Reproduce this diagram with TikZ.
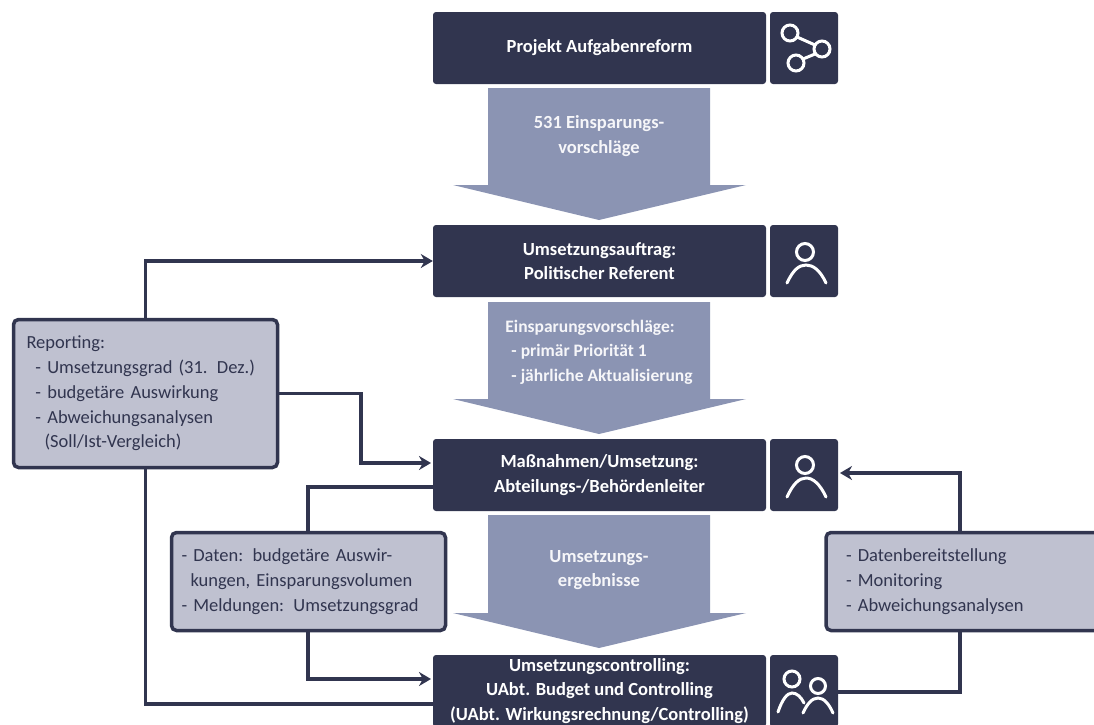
\documentclass[tikz,border=0pt]{standalone}
\usepackage{fontspec}
\setmainfont{Carlito}
\usetikzlibrary{arrows.meta}
\definecolor{dark}{HTML}{31354F}
\definecolor{flow}{HTML}{8B94B3}
\definecolor{pale}{HTML}{BFC1D0}
\tikzset{
  x=1pt,y=-1pt,
  mainbox/.style={fill=dark,rounded corners=3pt,minimum width=333pt,minimum height=72pt,inner sep=0pt,text=white,align=center,font=\fontsize{18.5}{24.5}\selectfont\bfseries},
  iconbox/.style={fill=dark,rounded corners=3pt,minimum width=68pt,minimum height=72pt,inner sep=0pt},
  notebox/.style={draw=dark,line width=3.5pt,fill=pale,rounded corners=5pt,inner sep=0pt,text=dark,align=left,font=\fontsize{18.5}{24.7}\selectfont},
  flowarrow/.style={fill=flow},
  flowtext/.style={text=white!92!flow,align=center,inner sep=0pt,font=\fontsize{18.5}{24.5}\selectfont\bfseries},
  link/.style={draw=dark,line width=3.5pt},
  linkarrow/.style={link,-{Stealth[length=12pt,width=14pt]}},
  icon/.style={draw=white,line width=3pt,line cap=round},
}
\begin{document}
\begin{tikzpicture}
\useasboundingbox (0,0) rectangle (1094,724);
\clip (0,0) rectangle (1094,724);
% main boxes
\node[mainbox] (b1) at (599.5,48) {Projekt Aufgabenreform};
\node[iconbox] (i1) at (804,48) {};
\node[mainbox] (b2) at (599.5,261) {Umsetzungsauftrag:\\Politischer Referent};
\node[iconbox] (i2) at (804,261) {};
\node[mainbox] (b3) at (599.5,475) {Maßnahmen/Umsetzung:\\Abteilungs-/Behördenleiter};
\node[iconbox] (i3) at (804,475) {};
\node[mainbox] (b4) at (599.5,691) {Umsetzungscontrolling:\\UAbt. Budget und Controlling\\(UAbt. Wirkungsrechnung/Controlling)};
\node[iconbox] (i4) at (804,691) {};
% flow arrows
\fill[flowarrow] (488,88) -- (710,88) -- (710,185) -- (746,185) -- (599,220) -- (453,185) -- (488,185) -- cycle;
\fill[flowarrow] (488,302) -- (710,302) -- (710,399) -- (746,399) -- (599,434) -- (453,399) -- (488,399) -- cycle;
\fill[flowarrow] (488,515) -- (710,515) -- (710,613) -- (746,613) -- (599,648) -- (453,613) -- (488,613) -- cycle;
\node[flowtext] (t1) at (599,136) {531 Einsparungs-\\vorschläge};
\node[flowtext,align=left,font=\fontsize{17.5}{24.5}\selectfont\bfseries] (t2) at (599,352) {Einsparungsvorschläge:\\\hspace*{6pt}- primär Priorität 1\\\hspace*{6pt}- jährliche Aktualisierung};
\node[flowtext] (t3) at (599,570) {Umsetzungs-\\ergebnisse};
% notes
\node[notebox,minimum width=264pt,minimum height=148pt,text width=238pt] (rep) at (145.5,393.5) {Reporting:\\\hspace*{9pt}- Umsetzungsgrad (31. Dez.)\\\hspace*{9pt}- budgetäre Auswirkung\\\hspace*{9pt}- Abweichungsanalysen\\\hspace*{18pt}(Soll/Ist-Vergleich)};
\node[notebox,minimum width=274pt,minimum height=98pt,text width=254pt] (dat) at (308.5,581.5) {- Daten: budgetäre Auswir-\\\hspace*{9pt}kungen, Einsparungsvolumen\\- Meldungen: Umsetzungsgrad};
\node[notebox,minimum width=280pt,minimum height=98pt,text width=254pt] (mon) at (966,581.5) {\hspace*{7pt}- Datenbereitstellung\\\hspace*{7pt}- Monitoring\\\hspace*{7pt}- Abweichungsanalysen};
% connector ends
\coordinate (b3in) at (431,463);
\coordinate (b3out) at (433,487);
\coordinate (b4in) at (431,679);
\coordinate (b4low) at (433,704);
\coordinate (i3in) at (840,473);
\coordinate (i4out) at (838,692);
\coordinate (monx) at (960,600);
\coordinate (datx) at (308,600);
\coordinate (repmid) at (361,420);
% connectors
\draw[linkarrow] (rep.north) |- (b2.west);
\draw[link] (rep.south) |- (b4low);
\draw[linkarrow] (rep.east) -| (repmid) |- (b3in);
\draw[link] (b3out) -| (datx |- dat.north);
\draw[linkarrow] (datx |- dat.south) |- (b4in);
\draw[link] (i4out) -| (monx |- mon.south);
\draw[linkarrow] (monx |- mon.north) |- (i3in);
% icons
\begin{scope}[icon]
\draw (790,33) circle (8);
\draw (822,49) circle (8);
\draw (796,63) circle (8);
\draw (797,37) -- (815,45);
\draw (815,54) -- (803,59);
\draw (805,252) circle (8.5);
\draw (787,283) .. controls (793,270) and (799,265) .. (806,265) .. controls (813,265) and (820,270) .. (826,283);
\draw (805,465) circle (8.5);
\draw (787,497) .. controls (793,484) and (799,478) .. (806,478) .. controls (813,478) and (820,484) .. (826,497);
\draw (792,679) circle (8);
\draw (778,712) .. controls (782,700) and (787,693) .. (792,693) .. controls (797,693) and (801,697) .. (804,703);
\draw (818,686) circle (7.5);
\draw (803,713) .. controls (807,704) and (812,698) .. (818,698) .. controls (824,698) and (829,704) .. (833,713);
\end{scope}
\end{tikzpicture}
\end{document}
